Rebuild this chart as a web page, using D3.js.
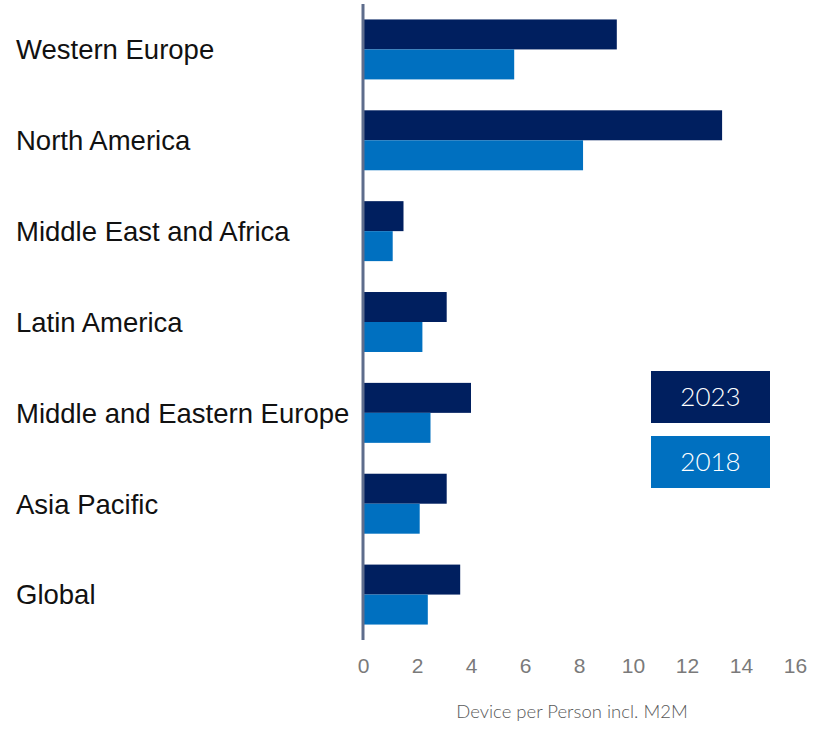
<!DOCTYPE html>
<html>
<head>
<meta charset="utf-8">
<script src="https://cdn.jsdelivr.net/npm/d3@7"></script>
<style>
  html, body { margin: 0; padding: 0; background: #ffffff; }
  svg { display: block; }
</style>
</head>
<body>
<svg id="chart" width="820" height="729"></svg>
<script>
// Regions, top to bottom
const regions = [
  "Western Europe",
  "North America",
  "Middle East and Africa",
  "Latin America",
  "Middle and Eastern Europe",
  "Asia Pacific",
  "Global"
];
// Devices per person (incl. M2M)
const values2023 = [9.4, 13.3, 1.5, 3.1, 4.0, 3.1, 3.6];
const values2018 = [5.6, 8.15, 1.1, 2.2, 2.5, 2.1, 2.4];
const seriesNames = ["2023", "2018"];
const xTicks = [0, 2, 4, 6, 8, 10, 12, 14, 16];
const xTitle = "Device per Person incl. M2M";

const colors = { "2023": "#001f5f", "2018": "#0070c0" };

const svg = d3.select("#chart");

const x = d3.scaleLinear().domain([0, 16]).range([363, 795]);
const y = d3.scaleBand().domain(regions).range([4, 640])
  .paddingInner(0.34).paddingOuter(0.17);
const sub = d3.scaleBand().domain(seriesNames).range([0, y.bandwidth()]);

const rows = regions.map((r, i) => ({ region: r, "2023": values2023[i], "2018": values2018[i] }));

// Bars
const groups = svg.append("g").selectAll("g").data(rows).join("g")
  .attr("transform", d => `translate(0,${y(d.region)})`);
groups.selectAll("rect")
  .data(d => seriesNames.map(s => ({ s, v: d[s] })))
  .join("rect")
  .attr("x", x(0))
  .attr("y", d => sub(d.s))
  .attr("width", d => x(d.v) - x(0))
  .attr("height", sub.bandwidth())
  .attr("fill", d => colors[d.s]);

// Vertical axis line
svg.append("line")
  .attr("x1", x(0)).attr("x2", x(0))
  .attr("y1", 4).attr("y2", 640)
  .attr("stroke", "#5e6d8c").attr("stroke-width", 3);

// Region labels
svg.append("g").selectAll("text").data(regions).join("text")
  .attr("x", 16)
  .attr("y", d => y(d) + y.bandwidth() / 2)
  .attr("dy", "0.36em")
  .attr("font-family", "Liberation Sans, Arial, sans-serif")
  .attr("font-size", 27.5)
  .attr("fill", "#111")
  .text(d => d);

// Bottom axis tick labels
const xAxis = d3.axisBottom(x).tickValues(xTicks).tickSize(0).tickPadding(0);
const ax = svg.append("g").attr("transform", "translate(0,658)").call(xAxis);
ax.select(".domain").remove();
ax.attr("font-family", "Liberation Sans, Arial, sans-serif");
ax.selectAll("text")
  .attr("dy", "0.72em")
  .attr("font-family", "Liberation Sans, Arial, sans-serif")
  .attr("font-size", 21)
  .attr("fill", "#7a7a7a");

// Axis title
svg.append("text")
  .attr("x", 572).attr("y", 718)
  .attr("text-anchor", "middle")
  .attr("font-family", "Lato, sans-serif")
  .attr("font-weight", 300)
  .attr("font-size", 18.5)
  .attr("fill", "#595959")
  .text(xTitle);

// Legend
const legend = svg.append("g").selectAll("g").data(seriesNames).join("g")
  .attr("transform", (d, i) => `translate(651,${371 + i * 65})`);
legend.append("rect")
  .attr("width", 119).attr("height", 52)
  .attr("fill", d => colors[d]);
legend.append("text")
  .attr("x", 59.5).attr("y", 26).attr("dy", "0.36em")
  .attr("text-anchor", "middle")
  .attr("font-family", "Lato, sans-serif")
  .attr("font-weight", 300)
  .attr("font-size", 26)
  .attr("fill", "#ffffff")
  .text(d => d);
</script>
</body>
</html>
